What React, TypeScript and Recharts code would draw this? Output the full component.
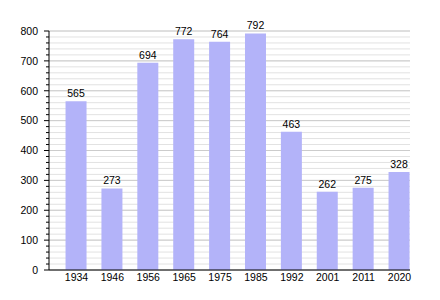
import { BarChart, Bar, XAxis, YAxis, CartesianGrid, LabelList } from "recharts";

const years = ["1934", "1946", "1956", "1965", "1975", "1985", "1992", "2001", "2011", "2020"];
const population = [565, 273, 694, 772, 764, 792, 463, 262, 275, 328];
const minorTicks = [0, 20, 40, 60, 80, 100, 120, 140, 160, 180, 200, 220, 240, 260, 280, 300, 320, 340, 360, 380, 400, 420, 440, 460, 480, 500, 520, 540, 560, 580, 600, 620, 640, 660, 680, 700, 720, 740, 760, 780, 800];
const majorTicks = [0, 100, 200, 300, 400, 500, 600, 700, 800];

const data = years.map((y, i) => ({ i, year: y, value: population[i] }));

const FONT = "'Liberation Sans', Arial, sans-serif";

function YTick(props: any) {
  const { x, y, payload } = props;
  const v = payload.value as number;
  const major = v % 100 === 0;
  return (
    <g>
      <line x1={x - (major ? 5 : 3)} x2={x} y1={y} y2={y} stroke="#000" strokeWidth={1} />
      {major && (
        <text x={x - 11} y={y} dy="0.36em" textAnchor="end" fontSize={10.5} fontFamily={FONT} fill="#000">
          {v}
        </text>
      )}
    </g>
  );
}

export default function App() {
  return (
    <div style={{ position: "absolute", left: 0, top: 0, background: "#fff" }}>
      <BarChart width={440} height={300} data={data} margin={{ top: 31, right: 30, bottom: 0, left: 0 }}>
        <CartesianGrid horizontal={true} vertical={false} horizontalValues={minorTicks} stroke="#e2e2e2" />
        <CartesianGrid horizontal={true} vertical={false} horizontalValues={majorTicks} stroke="#cccccc" />
        <XAxis
          dataKey="i"
          type="number"
          domain={[-0.766, 9.293]}
          allowDataOverflow
          ticks={years.map((_, i) => i)}
          tickFormatter={(i: number) => years[i]}
          tickLine={false}
          tickSize={0}
          tickMargin={4}
          height={30}
          axisLine={{ stroke: "#000" }}
          tick={{ fontSize: 10.5, fontFamily: FONT, fill: "#000" }}
          interval={0}
        />
        <YAxis
          domain={[0, 800]}
          ticks={minorTicks}
          interval={0}
          width={49}
          tickLine={false}
          tickSize={0}
          tickMargin={0}
          axisLine={{ stroke: "#000" }}
          tick={<YTick />}
        />
        <Bar dataKey="value" fill="#b3b3f9" barSize={21} isAnimationActive={false}>
          <LabelList dataKey="value" position="top" offset={4} fontSize={10.5} fontFamily={FONT} fill="#000" />
        </Bar>
      </BarChart>
    </div>
  );
}
